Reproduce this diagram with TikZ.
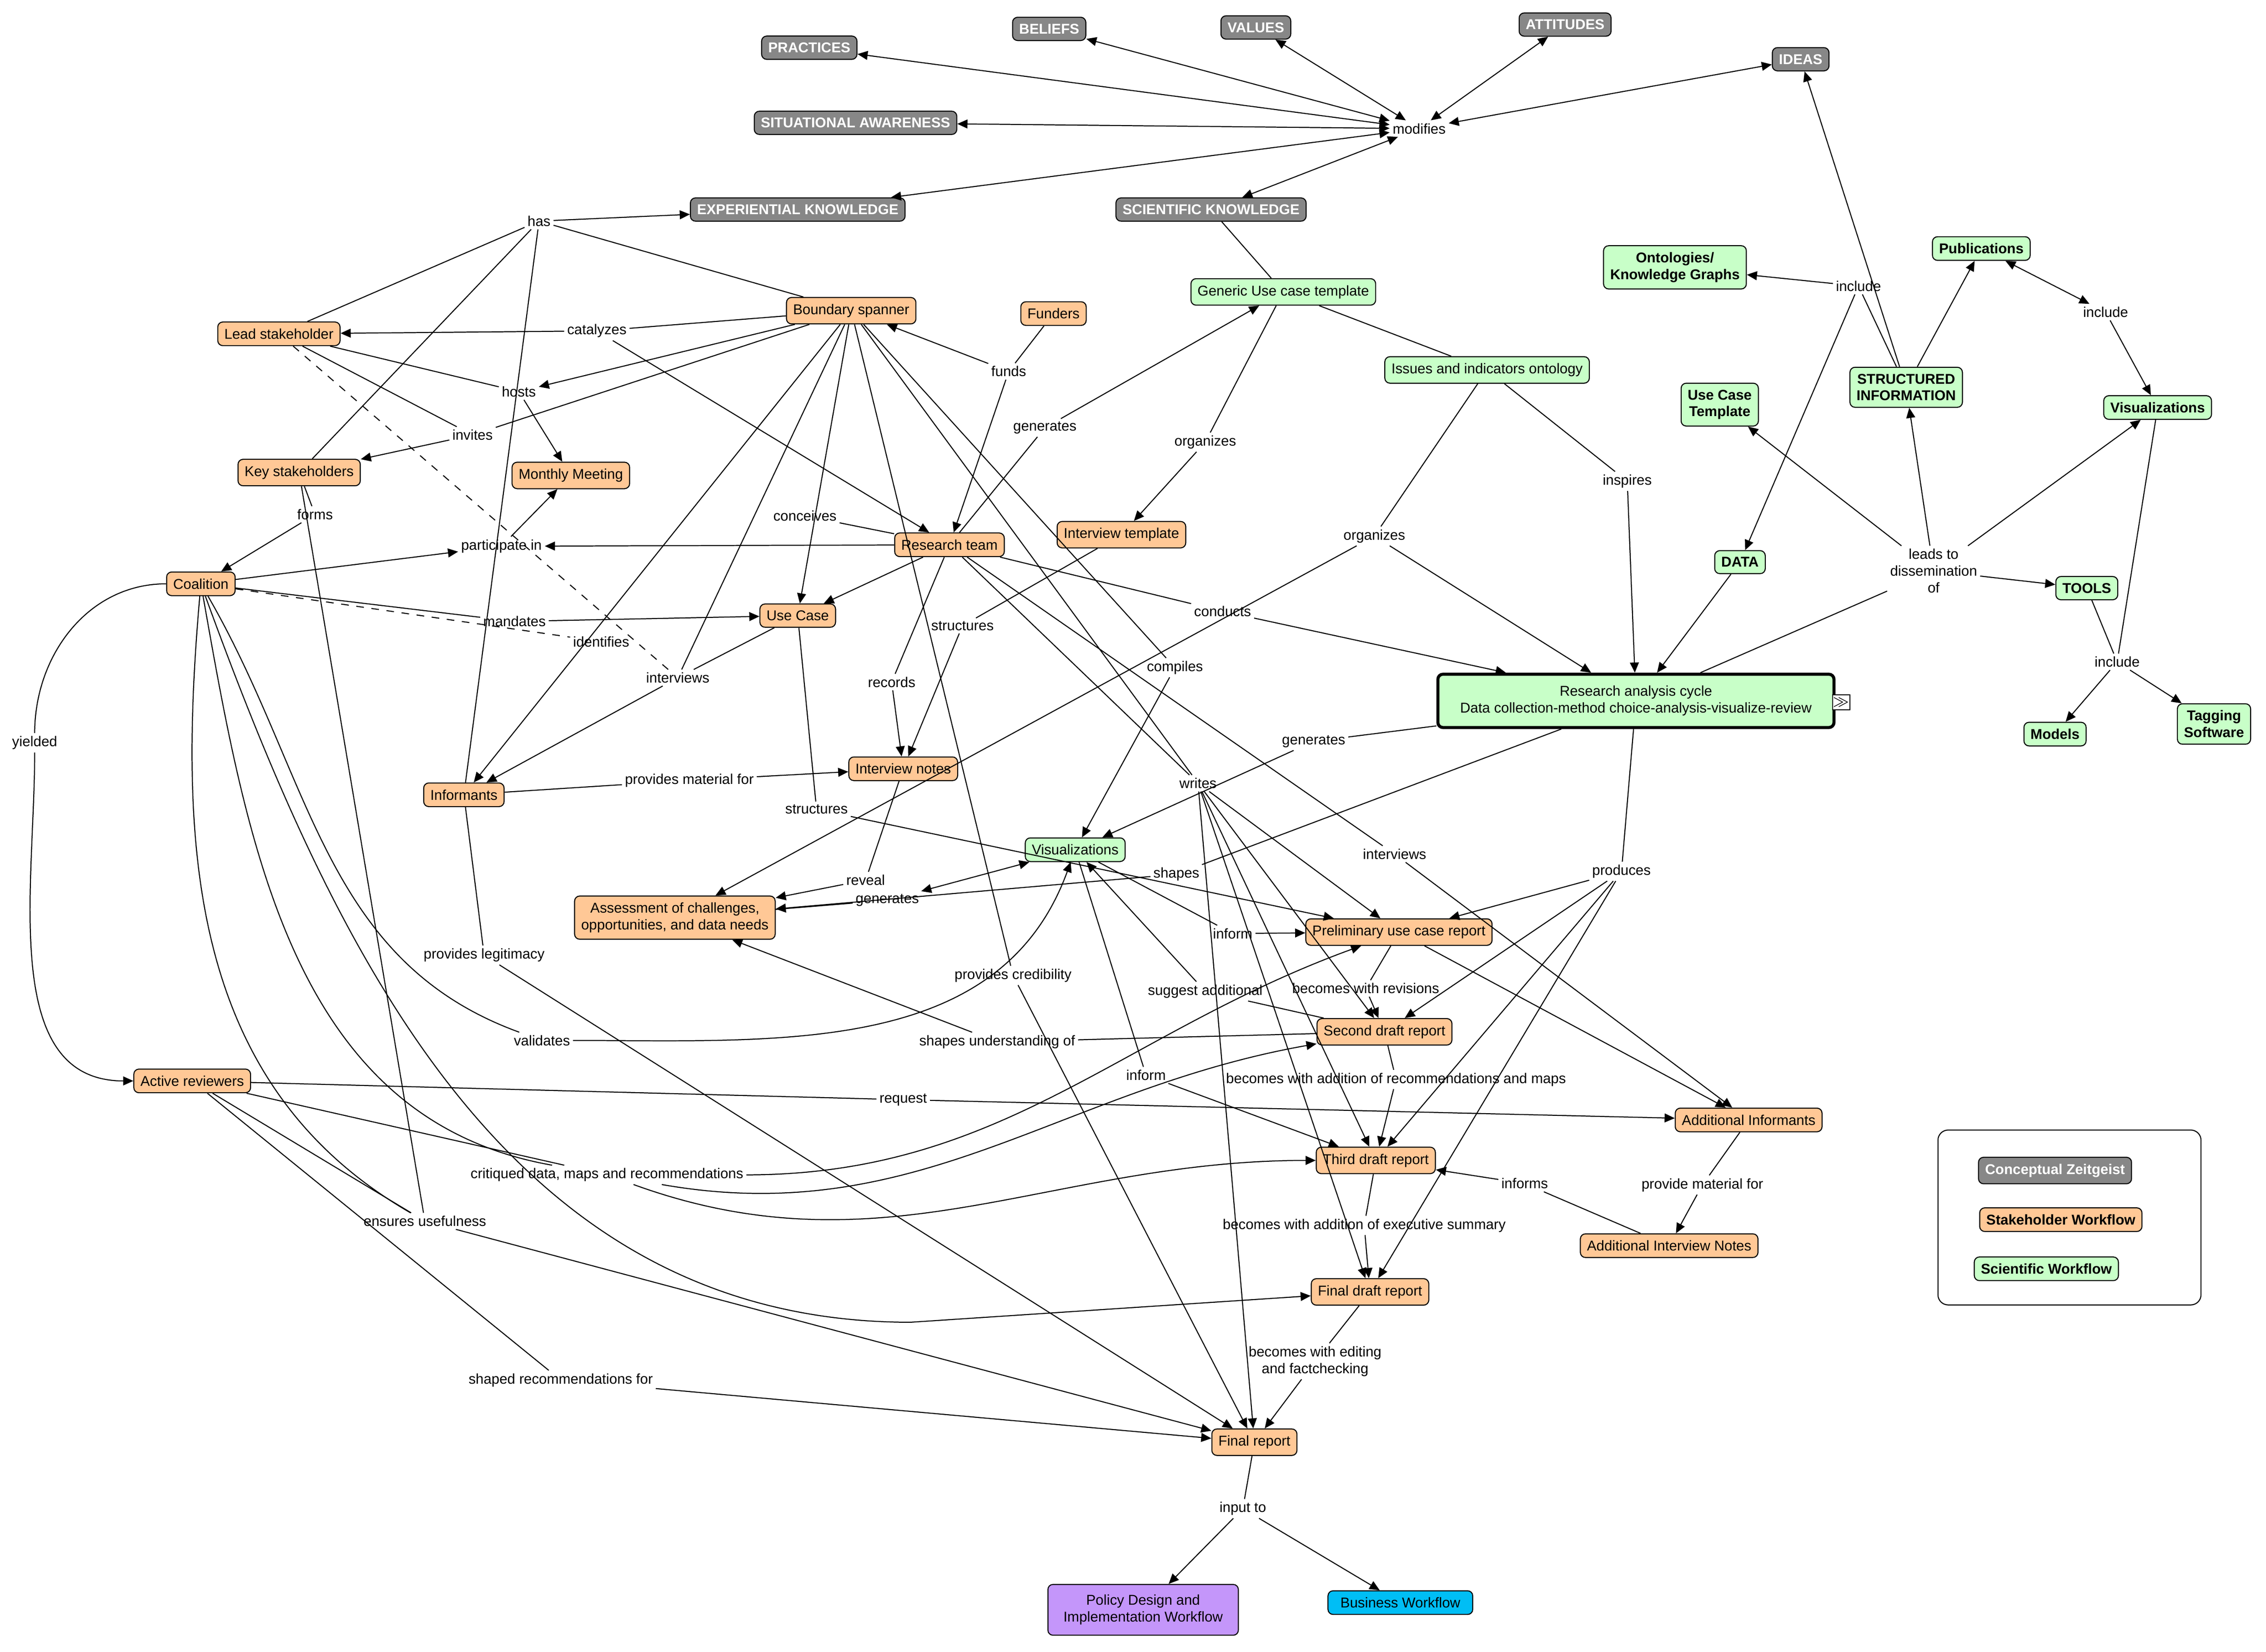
\documentclass[tikz,border=0pt]{standalone}
\usepackage{fontspec}
\setmainfont{Liberation Sans}
\usetikzlibrary{arrows.meta}
\definecolor{org}{RGB}{255,200,150}
\definecolor{grn}{RGB}{200,255,200}
\definecolor{gzc}{RGB}{135,135,135}
\definecolor{pur}{RGB}{196,150,250}
\definecolor{blu}{RGB}{0,190,245}
\begin{document}
\begin{tikzpicture}[x=0.02cm,y=-0.02cm,font=\fontsize{5.6}{6.6}\selectfont,
 box/.style={draw,rounded corners=2pt,inner sep=2.6pt,align=center},
 gz/.style={box,fill=gzc,text=white,font=\fontsize{5.6}{6.6}\selectfont\bfseries},
 st/.style={box,fill=org},
 sc/.style={box,fill=grn},
 scb/.style={sc,font=\fontsize{5.6}{6.6}\selectfont\bfseries},
 lk/.style={inner sep=1pt,align=center},
 ln/.style={draw,line width=0.4pt},
 ar/.style={ln,-{Triangle[length=4pt,width=3.5pt]}},
 da/.style={ar,{Triangle[length=4pt,width=3.5pt]}-{Triangle[length=4pt,width=3.5pt]}}]
\useasboundingbox (0,0) rectangle (1568,1143);
% gray
\node[gz] (prac) at (560,33) {PRACTICES};
\node[gz] (bel) at (726,20) {BELIEFS};
\node[gz] (val) at (869,19) {VALUES};
\node[gz] (att) at (1083,17) {ATTITUDES};
\node[gz] (ideas) at (1246,41) {IDEAS};
\node[gz] (sit) at (592,85) {SITUATIONAL AWARENESS};
\node[gz] (exp) at (552,145) {EXPERIENTIAL KNOWLEDGE};
\node[gz] (sci) at (838,145) {SCIENTIFIC KNOWLEDGE};
\node[lk] (mod) at (982,89) {modifies};
\foreach \n in {prac,bel,val,att,ideas,sit,exp,sci} \draw[da] (mod) -- (\n);
% orange
\node[st] (lead) at (193,231) {Lead stakeholder};
\node[st] (bs) at (589,215) {Boundary spanner};
\node[st] (fund) at (729,217) {Funders};
\node[st] (key) at (207,327) {Key stakeholders};
\node[st] (mm) at (395,329) {Monthly Meeting};
\node[st] (coal) at (139,404) {Coalition};
\node[st] (rt) at (657,377) {Research team};
\node[st] (it) at (776,370) {Interview template};
\node[st] (uc) at (552,426) {Use Case};
\node[st] (inf) at (321,550) {Informants};
\node[st] (in) at (625,532) {Interview notes};
\node[st] (ass) at (467,635) {Assessment of challenges,\\opportunities, and data needs};
\node[st] (pre) at (968,645) {Preliminary use case report};
\node[st] (sec) at (958,714) {Second draft report};
\node[st] (thi) at (952,803) {Third draft report};
\node[st] (fdr) at (948,894) {Final draft report};
\node[st] (fin) at (868,998) {Final report};
\node[st] (act) at (133,748) {Active reviewers};
\node[st] (ai) at (1210,775) {Additional Informants};
\node[st] (ain) at (1155,862) {Additional Interview Notes};
% green
\node[sc] (guc) at (888,202) {Generic Use case template};
\node[sc] (iio) at (1029,256) {Issues and indicators ontology};
\node[scb] (ont) at (1159,185) {Ontologies/\\Knowledge Graphs};
\node[scb] (pub) at (1371,172) {Publications};
\node[scb] (uct) at (1190,280) {Use Case\\Template};
\node[scb] (si) at (1319,268) {STRUCTURED\\INFORMATION};
\node[scb] (visr) at (1493,282) {Visualizations};
\node[scb] (data) at (1204,389) {DATA};
\node[scb] (tools) at (1444,407) {TOOLS};
\node[scb] (models) at (1422,508) {Models};
\node[scb] (tag) at (1532,501) {Tagging\\Software};
\node[sc,line width=1.2pt,minimum width=156pt,minimum height=21pt] (rac) at (1132,485) {Research analysis cycle\\Data collection-method choice-analysis-visualize-review};
\node[draw,fill=white,inner sep=0pt,minimum size=6pt,font=\fontsize{5}{5}\selectfont] at (1274,486) {$\gg$};
\node[sc] (vis) at (744,588) {Visualizations};
\node[box,fill=pur,minimum width=75pt,minimum height=20pt] (pol) at (791,1114) {Policy Design and\\Implementation Workflow};
\node[box,fill=blu,minimum width=57pt] (bus) at (969,1109) {Business Workflow};
% legend
\draw[rounded corners=4pt] (1341,782) rectangle (1523,903);
\node[gz] at (1422,810) {Conceptual Zeitgeist};
\node[st,font=\fontsize{5.6}{6.6}\selectfont\bfseries] at (1426,844) {Stakeholder Workflow};
\node[scb] at (1416,878) {Scientific Workflow};
% links
\node[lk] (has) at (373,153) {has};
\node[lk] (cat) at (413,229) {catalyzes};
\node[lk] (hosts) at (359,271) {hosts};
\node[lk] (inv) at (327,301) {invites};
\node[lk] (forms) at (218,356) {forms};
\node[lk] (part) at (347,378) {participate in};
\node[lk] (conc) at (557,357) {conceives};
\node[lk] (funds) at (698,257) {funds};
\node[lk] (gen1) at (723,296) {generates};
\node[lk] (org1) at (834,306) {organizes};
\node[lk] (mand) at (356,430) {mandates};
\node[lk] (ident) at (416,444) {identifies};
\node[lk] (intv1) at (469,469) {interviews};
\node[lk] (rec) at (617,472) {records};
\node[lk] (str1) at (666,433) {structures};
\node[lk] (comp) at (813,462) {compiles};
\node[lk] (cond) at (846,423) {conducts};
\node[lk] (org2) at (951,371) {organizes};
\node[lk] (insp) at (1126,333) {inspires};
\node[lk] (inc1) at (1286,198) {include};
\node[lk] (inc2) at (1457,216) {include};
\node[lk] (lead2) at (1338,395) {leads to\\dissemination\\of};
\node[lk] (inc3) at (1465,458) {include};
\node[lk] (gen2) at (909,513) {generates};
\node[lk] (wr) at (829,542) {writes};
\node[lk] (pmf) at (477,540) {provides material for};
\node[lk] (str2) at (565,560) {structures};
\node[lk] (rev) at (599,609) {reveal};
\node[lk] (gen3) at (614,623) {generates};
\node[lk] (shp) at (814,605) {shapes};
\node[lk] (intv2) at (965,591) {interviews};
\node[lk] (prod) at (1122,603) {produces};
\node[lk] (inf1) at (853,646) {inform};
\node[lk] (bwr) at (945,684) {becomes with revisions};
\node[lk] (sug) at (834,686) {suggest additional};
\node[lk] (pcr) at (701,675) {provides credibility};
\node[lk] (plg) at (335,661) {provides legitimacy};
\node[lk] (val2) at (375,720) {validates};
\node[lk] (suo) at (690,721) {shapes understanding of};
\node[lk] (inf2) at (793,744) {inform};
\node[lk] (bwa) at (966,747) {becomes with addition of recommendations and maps};
\node[lk] (req) at (625,761) {request};
\node[lk] (crit) at (420,813) {critiqued data, maps and recommendations};
\node[lk] (eu) at (294,845) {ensures usefulness};
\node[lk] (infs) at (1055,819) {informs};
\node[lk] (pmf2) at (1178,820) {provide material for};
\node[lk] (bwe) at (944,848) {becomes with addition of executive summary};
\node[lk] (yld) at (24,514) {yielded};
\node[lk] (bwed) at (910,942) {becomes with editing\\and factchecking};
\node[lk] (srf) at (388,955) {shaped recommendations for};
\node[lk] (inp) at (860,1044) {input to};
% connections
\draw[ln] (lead)--(has) (bs)--(has) (key)--(has) (inf)--(has); \draw[ar] (has)--(exp);
\draw[ln] (bs)--(cat); \draw[ar] (cat)--(lead); \draw[ar] (cat)--(rt);
\draw[ln] (lead)--(hosts); \draw[ar] (bs)--(hosts); \draw[ar] (hosts)--(mm);
\draw[ln] (lead)--(inv) (bs)--(inv); \draw[ar] (inv)--(key);
\draw[ln] (key)--(forms); \draw[ar] (forms)--(coal);
\draw[ar] (coal)--(part); \draw[ar] (rt)--(part); \draw[ar] (part)--(mm);
\draw[ln] (rt)--(conc); \draw[ar] (bs)--(uc);
\draw[ln] (fund)--(funds); \draw[ar] (funds)--(bs); \draw[ar] (funds)--(rt);
\draw[ln] (rt)--(gen1); \draw[ar] (gen1)--(guc);
\draw[ln] (guc)--(org1); \draw[ar] (org1)--(it);
\draw[ln] (sci)--(guc) (guc)--(iio);
\draw[ln] (coal)--(mand); \draw[ar] (mand)--(uc);
\draw[ln,dashed] (coal)--(ident); \draw[ar] (bs)--(inf);
\draw[ln,dashed] (lead)--(intv1); \draw[ln] (uc)--(intv1) (bs)--(intv1); \draw[ar] (intv1)--(inf);
\draw[ln] (rt)--(rec); \draw[ar] (rec)--(in);
\draw[ln] (it)--(str1); \draw[ar] (str1)--(in); \draw[ar] (rt)--(uc);
\draw[ln] (bs)--(comp); \draw[ar] (comp)--(vis);
\draw[ln] (rt)--(cond); \draw[ar] (cond)--(rac);
\draw[ln] (iio)--(org2); \draw[ar] (org2)--(rac); \draw[ar] (org2)--(ass);
\draw[ln] (iio)--(insp); \draw[ar] (insp)--(rac);
\draw[ln] (si)--(inc1); \draw[ar] (inc1)--(ont); \draw[ar] (inc1)--(data);
\draw[ar] (si)--(ideas); \draw[ar] (si)--(pub);
\draw[da] (pub)--(inc2); \draw[ar] (inc2)--(visr);
\draw[ln] (rac)--(lead2); \draw[ar] (lead2)--(uct); \draw[ar] (lead2)--(si); \draw[ar] (lead2)--(visr); \draw[ar] (lead2)--(tools);
\draw[ln] (tools)--(inc3) (visr)--(inc3); \draw[ar] (inc3)--(models); \draw[ar] (inc3)--(tag);
\draw[ar] (data)--(rac);
\draw[ln] (rac)--(gen2); \draw[ar] (gen2)--(vis);
\draw[ln] (rt)--(wr) (bs)--(wr); \foreach \t in {pre,sec,thi,fdr,fin} \draw[ar] (wr)--(\t);
\draw[ln] (inf)--(pmf); \draw[ar] (pmf)--(in);
\draw[ln] (uc)--(str2); \draw[ar] (str2)--(pre);
\draw[ln] (in)--(rev); \draw[ar] (rev)--(ass);
\draw[da] (ass)--(gen3) (gen3)--(vis);
\draw[ln] (rac)--(shp); \draw[ar] (shp)--(ass);
\draw[ln] (rt)--(intv2); \draw[ar] (intv2)--(ai);
\draw[ln] (rac)--(prod); \foreach \t in {pre,sec,thi,fdr} \draw[ar] (prod)--(\t);
\draw[ln] (vis)--(inf1); \draw[ar] (inf1)--(pre);
\draw[ln] (pre)--(bwr); \draw[ar] (bwr)--(sec);
\draw[ln] (sec)--(sug); \draw[ar] (sug)--(vis);
\draw[ln] (bs)--(pcr); \draw[ar] (pcr)--(fin);
\draw[ln] (inf)--(plg); \draw[ar] (plg)--(fin);
\draw[ln] (coal) to[out=-60,in=160] (val2); \draw[ar] (val2) to[out=0,in=-110] (vis);
\draw[ln] (sec)--(suo); \draw[ar] (suo)--(ass);
\draw[ln] (vis)--(inf2); \draw[ar] (inf2)--(thi);
\draw[ln] (sec)--(bwa); \draw[ar] (bwa)--(thi);
\draw[ln] (act)--(req); \draw[ar] (req)--(ai);
\draw[ln] (act)--(crit); \draw[ar] (crit) to[out=0,in=200] (pre); \draw[ar] (crit) to[out=-10,in=190] (sec); \draw[ar] (crit) to[out=-20,in=180] (thi);
\draw[ln] (coal) to[out=-80,in=170] (crit);
\draw[ln] (act)--(eu) (key)--(eu); \draw[ln] (coal) to[out=-95,in=150] (eu); \draw[ar] (eu)--(fin);
\draw[ar] (pre)--(ai);
\draw[ln] (ai)--(pmf2); \draw[ar] (pmf2)--(ain);
\draw[ln] (ain)--(infs); \draw[ar] (infs)--(thi);
\draw[ln] (thi)--(bwe); \draw[ar] (bwe)--(fdr);
\draw[ln] (coal) to[out=180,in=90] (yld); \draw[ar] (yld) to[out=-90,in=180] (act);
\draw[ln] (fdr)--(bwed); \draw[ar] (bwed)--(fin);
\draw[ln] (act)--(srf); \draw[ar] (srf)--(fin);
\coordinate (cv) at (630,915);
\draw[ln] (coal) to[out=-70,in=180] (cv); \draw[ar] (cv) -- (fdr);
\draw[ln] (fin)--(inp); \draw[ar] (inp)--(pol); \draw[ar] (inp)--(bus);
\end{tikzpicture}
\end{document}
